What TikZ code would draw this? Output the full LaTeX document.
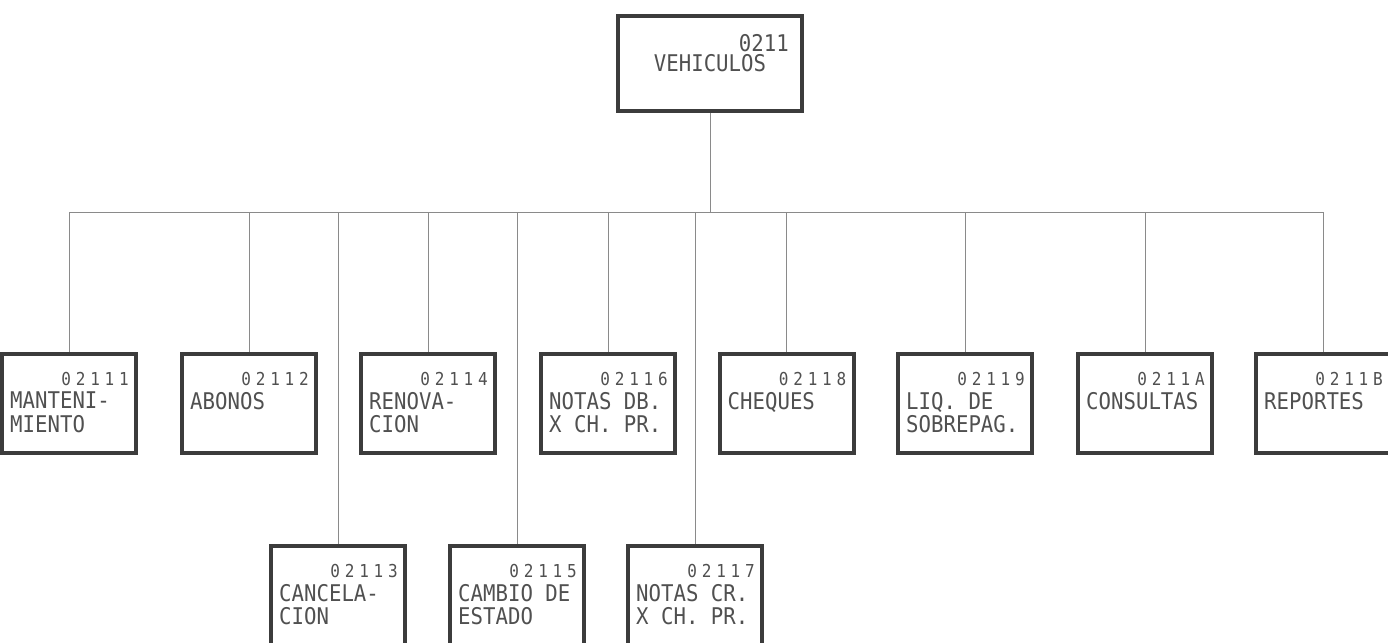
\documentclass[tikz,border=0pt]{standalone}
\usepackage{fontspec}
\newfontfamily\plotfont{DejaVu Sans Mono}[FakeStretch=0.9]
\newfontfamily\codefont{DejaVu Sans Mono}[FakeStretch=0.9,LetterSpace=27]
\definecolor{boxc}{HTML}{3C3C3C}
\definecolor{inkc}{HTML}{505050}
\definecolor{linec}{HTML}{8A8A8A}
\begin{document}
\begin{tikzpicture}[x=1pt,y=-1pt,
  box/.style={draw=boxc, line width=4pt, minimum width=134pt, minimum height=99pt, inner sep=0pt},
  topbox/.style={box, minimum width=184pt, minimum height=95pt},
  conn/.style={draw=linec, line width=1pt},
  lbl/.style={text=inkc, inner sep=0pt, anchor=north west, align=left, font=\plotfont\fontsize{23}{23.5}\selectfont},
  code/.style={text=inkc, inner sep=0pt, anchor=north east, font=\codefont\fontsize{17.8}{18}\selectfont},
  tcode/.style={text=inkc, inner sep=0pt, anchor=north east, font=\plotfont\fontsize{23}{23}\selectfont},
  tlbl/.style={text=inkc, inner sep=0pt, anchor=north, font=\plotfont\fontsize{23}{23}\selectfont}
]
\useasboundingbox (0,0) rectangle (1388,642);
\fill[white] (0,0) rectangle (1388,642);
\clip (0,0) rectangle (1388,642);

% top box
\node[topbox] (top) at (710,63.5) {};
\node[tcode] (topc) at ([xshift=-15pt,yshift=-20pt]top.north east) {0211};
\node[tlbl] (topl) at ([yshift=-40pt]top.north) {VEHICULOS};

% bar level
\coordinate (bar) at (710,212);

% top row
\node[box] (m1) at (69,403.5) {};
\node[box] (m2) at (249,403.5) {};
\node[box] (m4) at (428,403.5) {};
\node[box] (m6) at (608,403.5) {};
\node[box] (m8) at (786.5,403.5) {};
\node[box] (m9) at (965,403.5) {};
\node[box] (mA) at (1145,403.5) {};
\node[box] (mB) at (1323,403.5) {};
% bottom row
\node[box] (m3) at (338,595.5) {};
\node[box] (m5) at (517,595.5) {};
\node[box] (m7) at (695,595.5) {};

% connectors
\foreach \b in {m1,m2,m3,m4,m5,m6,m7,m8,m9,mA,mB}
  \draw[conn] (top.south) -- (top.south |- bar) -| (\b.north);

% texts
\foreach \b/\c/\t in {m1/02111/{MANTENI-\\MIENTO},
                     m2/02112/{ABONOS},
                     m3/02113/{CANCELA-\\CION},
                     m4/02114/{RENOVA-\\CION},
                     m5/02115/{CAMBIO DE\\ESTADO},
                     m6/02116/{NOTAS DB.\\X CH. PR.},
                     m7/02117/{NOTAS CR.\\X CH. PR.},
                     m8/02118/{CHEQUES},
                     m9/02119/{LIQ. DE\\SOBREPAG.},
                     mA/0211A/{CONSULTAS},
                     mB/0211B/{REPORTES}} {
  \node[code] (\b c) at ([xshift=-9pt,yshift=-20pt]\b.north east) {\c};
  \node[lbl] (\b t) at ([xshift=10pt,yshift=-40pt]\b.north west) {\t};
}
\end{tikzpicture}
\end{document}
